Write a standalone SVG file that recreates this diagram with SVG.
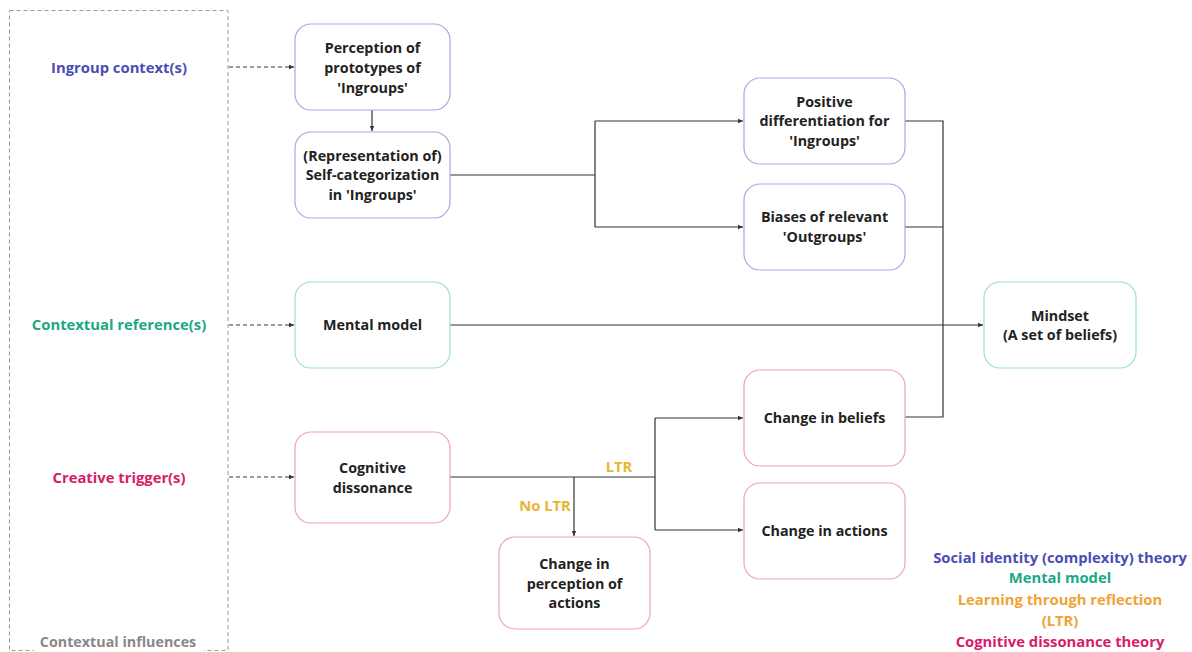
<svg xmlns="http://www.w3.org/2000/svg" width="1192" height="652" viewBox="0 0 1192 652">
<defs>
<marker id="ah" markerWidth="6" markerHeight="6" refX="5" refY="3" orient="auto" markerUnits="userSpaceOnUse">
<path d="M0,0.8 L5,3 L0,5.2 Z" fill="#333"/>
</marker>
<style>
text{font-family:"Open Sans","Noto Sans","Liberation Sans",sans-serif;font-weight:700;font-size:14.3px;text-anchor:middle}
.nt{fill:#222}
.lb{font-size:14.8px}
.n{fill:#fff;stroke-width:1.2}
.p{stroke:#a9a7e4}
.t{stroke:#9fdfcd}
.k{stroke:#efa0c6}
.c{fill:none;stroke:#333;stroke-width:1.2}
.d{fill:none;stroke:#333;stroke-width:1;stroke-dasharray:4 3}
</style>
</defs>
<rect x="0" y="0" width="1192" height="652" fill="#fff"/>
<g id="context-box">
<rect x="9.5" y="10.5" width="218.5" height="640" fill="none" stroke="#999" stroke-width="1" stroke-dasharray="4 3"/>
<rect x="34" y="634" width="170" height="18" fill="#fff"/>
<text x="118" y="647" fill="#888" font-size="15.8">Contextual influences</text>
<text class="lb" x="119" y="73" fill="#4a4db5">Ingroup context(s)</text>
<text class="lb" x="119" y="330" fill="#1aa886">Contextual reference(s)</text>
<text class="lb" x="119" y="483" fill="#d81b6a">Creative trigger(s)</text>
</g>
<g id="connectors">
<path class="d" d="M229,67 H294" marker-end="url(#ah)"/>
<path class="d" d="M229,325 H294" marker-end="url(#ah)"/>
<path class="d" d="M229,477 H294" marker-end="url(#ah)"/>
<path class="c" d="M372,110 V131" marker-end="url(#ah)"/>
<path class="c" d="M450,175 H595"/>
<path class="c" d="M595,121 V227"/>
<path class="c" d="M595,121 H743" marker-end="url(#ah)"/>
<path class="c" d="M595,227 H743" marker-end="url(#ah)"/>
<path class="c" d="M905,121 H943 V417 H905"/>
<path class="c" d="M905,227 H943"/>
<path class="c" d="M450,325 H983" marker-end="url(#ah)"/>
<path class="c" d="M450,477 H655"/>
<path class="c" d="M655,418 V530"/>
<path class="c" d="M655,418 H743" marker-end="url(#ah)"/>
<path class="c" d="M655,530 H743" marker-end="url(#ah)"/>
<path class="c" d="M574,477 V536" marker-end="url(#ah)"/>
<text class="lb" x="619" y="472" fill="#e8b62e">LTR</text>
<text class="lb" x="545" y="511" fill="#e8b62e">No LTR</text>
</g>
<g id="perception">
<rect class="n p" x="295" y="24" width="155" height="86" rx="16"/>
<text class="nt" x="372.5" y="53">Perception of</text>
<text class="nt" x="372.5" y="73">prototypes of</text>
<text class="nt" x="372.5" y="93">'Ingroups'</text>
</g>
<g id="selfcat">
<rect class="n p" x="295" y="132" width="155" height="86" rx="16"/>
<text class="nt" x="372.5" y="161">(Representation of)</text>
<text class="nt" x="372.5" y="180">Self-categorization</text>
<text class="nt" x="372.5" y="200">in 'Ingroups'</text>
</g>
<g id="positive">
<rect class="n p" x="744" y="78" width="161" height="86" rx="16"/>
<text class="nt" x="824.5" y="107">Positive</text>
<text class="nt" x="824.5" y="126">differentiation for</text>
<text class="nt" x="824.5" y="146">'Ingroups'</text>
</g>
<g id="biases">
<rect class="n p" x="744" y="184" width="161" height="86" rx="16"/>
<text class="nt" x="824.5" y="222">Biases of relevant</text>
<text class="nt" x="824.5" y="242">'Outgroups'</text>
</g>
<g id="mental">
<rect class="n t" x="295" y="282" width="155" height="86" rx="16"/>
<text class="nt" x="372.5" y="330">Mental model</text>
</g>
<g id="mindset">
<rect class="n t" x="984" y="282" width="152" height="86" rx="16"/>
<text class="nt" x="1060" y="321">Mindset</text>
<text class="nt" x="1060" y="340">(A set of beliefs)</text>
</g>
<g id="beliefs">
<rect class="n k" x="744" y="370" width="161" height="96" rx="16"/>
<text class="nt" x="824.5" y="423">Change in beliefs</text>
</g>
<g id="actions">
<rect class="n k" x="744" y="483" width="161" height="96" rx="16"/>
<text class="nt" x="824.5" y="536">Change in actions</text>
</g>
<g id="dissonance">
<rect class="n k" x="295" y="432" width="155" height="91" rx="16"/>
<text class="nt" x="372.5" y="473">Cognitive</text>
<text class="nt" x="372.5" y="493">dissonance</text>
</g>
<g id="perception-actions">
<rect class="n k" x="499" y="537" width="151" height="92" rx="16"/>
<text class="nt" x="574.5" y="569">Change in</text>
<text class="nt" x="574.5" y="589">perception of</text>
<text class="nt" x="574.5" y="608">actions</text>
</g>
<g id="legend">
<text class="lb" x="1060" y="563" fill="#4a4db5">Social identity (complexity) theory</text>
<text class="lb" x="1060" y="583" fill="#1aa886">Mental model</text>
<text class="lb" x="1060" y="605" fill="#f0a436">Learning through reflection</text>
<text class="lb" x="1060" y="626" fill="#f0a436">(LTR)</text>
<text class="lb" x="1060" y="647" fill="#d81b6a">Cognitive dissonance theory</text>
</g>
</svg>
